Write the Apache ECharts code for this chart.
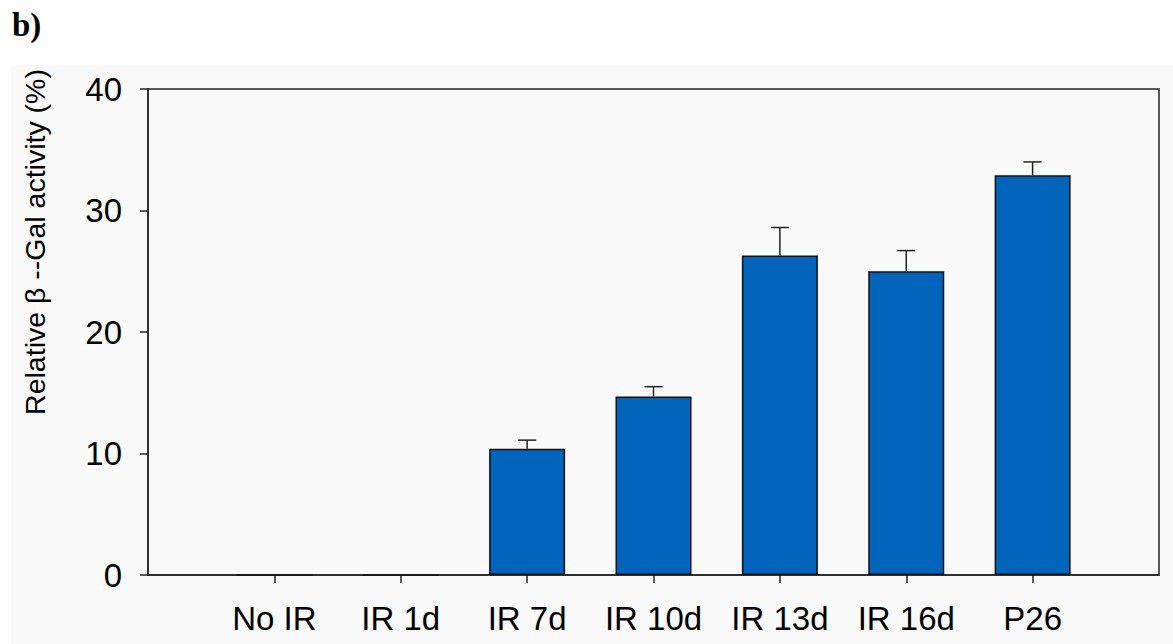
<!DOCTYPE html>
<html>
<head>
<meta charset="utf-8">
<script src="https://cdn.jsdelivr.net/npm/echarts@6/dist/echarts.min.js"></script>
<style>
  html, body { margin: 0; padding: 0; background: #fff; }
  #chart { width: 1173px; height: 644px; }
</style>
</head>
<body>
<div id="chart"></div>
<script>
// categories along x, placed at 1..7 on a 0..8 axis
var categories = ['No IR', 'IR 1d', 'IR 7d', 'IR 10d', 'IR 13d', 'IR 16d', 'P26'];
var activity = [0, 0, 10.4, 14.7, 26.3, 25.0, 32.9];
var errUp = [0, 0, 0.7, 0.8, 2.3, 1.7, 1.1];
var yTicks = [0, 10, 20, 30, 40];

var positions = categories.map(function (c, i) { return i + 1; });
var barData = activity.map(function (v, i) { return [positions[i], v]; });
var errData = activity.map(function (v, i) { return [positions[i], v, v + errUp[i]]; })
  .filter(function (d, i) { return errUp[i] > 0; });

var chart = echarts.init(document.getElementById('chart'), null, { renderer: 'svg' });

chart.setOption({
  animation: false,
  textStyle: { fontFamily: 'Liberation Sans, Arial, sans-serif' },
  graphic: [
    {
      type: 'rect', z: -10, silent: true,
      shape: { x: 11, y: 65, width: 1162, height: 579 },
      style: { fill: '#f9f9f9' }
    },
    {
      type: 'text', left: 12, top: 8,
      style: { text: 'b)', font: 'bold 33px "Liberation Serif", "Times New Roman", serif', fill: '#000' }
    },
    {
      type: 'text', x: 35, y: 242, rotation: Math.PI / 2,
      style: {
        text: 'Relative β --Gal activity (%)',
        font: '28.5px "Liberation Sans", Arial, sans-serif',
        fill: '#000', align: 'center', verticalAlign: 'middle'
      }
    }
  ],
  grid: {
    left: 148, top: 89, right: 14, bottom: 69,
    show: true, borderColor: '#222', borderWidth: 1.5, backgroundColor: 'transparent'
  },
  xAxis: {
    type: 'value', min: 0, max: 8, interval: 1,
    splitLine: { show: false },
    axisLine: { show: true, lineStyle: { color: '#222', width: 1.5 } },
    axisTick: { show: true, customValues: positions, length: 8, inside: false, lineStyle: { color: '#222', width: 1.5 } },
    axisLabel: {
      customValues: positions, margin: 27, color: '#000', fontSize: 33,
      formatter: function (v) { return categories[v - 1] || ''; }
    }
  },
  yAxis: {
    type: 'value', min: yTicks[0], max: yTicks[yTicks.length - 1], interval: 10,
    splitLine: { show: false },
    axisLine: { show: true, lineStyle: { color: '#222', width: 1.5 } },
    axisTick: { show: true, length: 8, lineStyle: { color: '#222', width: 1.5 } },
    axisLabel: { margin: 26, color: '#000', fontSize: 33 }
  },
  series: [
    {
      type: 'bar',
      data: barData,
      barWidth: 76,
      itemStyle: { color: '#0064bb', borderColor: '#111', borderWidth: 1.5 }
    },
    {
      type: 'custom',
      data: errData,
      z: 1,
      renderItem: function (params, api) {
        var x = api.value(0);
        var top = api.coord([x, api.value(2)]);
        var base = api.coord([x, api.value(1)]);
        var half = 9;
        var style = { stroke: '#222', lineWidth: 1.5 };
        return {
          type: 'group',
          children: [
            { type: 'line', shape: { x1: base[0], y1: base[1], x2: top[0], y2: top[1] }, style: style },
            { type: 'line', shape: { x1: top[0] - half, y1: top[1], x2: top[0] + half, y2: top[1] }, style: style }
          ]
        };
      }
    }
  ]
});
</script>
</body>
</html>
